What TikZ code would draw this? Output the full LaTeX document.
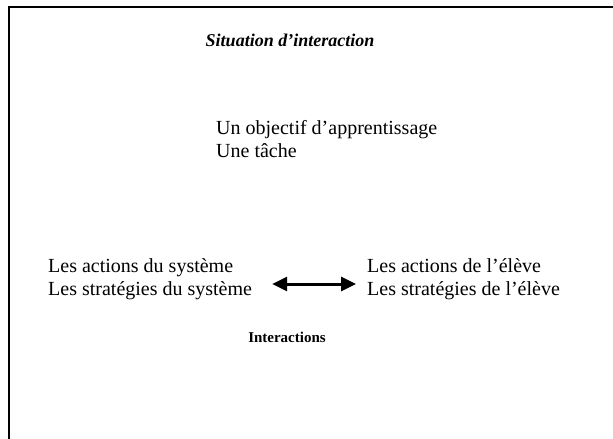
\documentclass[tikz,border=0pt]{standalone}
\usepackage{fontspec}
\setmainfont{Liberation Serif}
\usetikzlibrary{arrows.meta}

\begin{document}
\begin{tikzpicture}[x=1pt, y=-1pt,
    every node/.style={inner sep=0pt, font=\fontsize{20}{23}\selectfont},
    bloc/.style={align=left, anchor=west},
    fleche/.style={line width=3pt, {Triangle[width=14pt,length=15pt]}-{Triangle[width=14pt,length=15pt]}}]
    \useasboundingbox (0,0) rectangle (613,439);
    % cadre
    \draw[line width=1.5pt] (9,439) -- (9,7) -- (613,7);

    \node [font=\fontsize{18}{23}\selectfont] (Titre) at (290,40) {\bfseries\itshape Situation d'interaction};
    \node [bloc] (Objectif) at (216,139) {Un objectif d'apprentissage\\Une tâche};
    \node [bloc] (Systeme) at (48,279) {Les actions du système\\Les stratégies du système};
    \node [bloc] (Eleve) at (367,279) {Les actions de l'élève\\Les stratégies de l'élève};
    \node [font=\fontsize{15}{17}\bfseries] (Interactions) at (287,337) {Interactions};

    \draw [fleche] ([xshift=20pt,yshift=-5pt]Systeme.east) -- ([xshift=-11pt,yshift=-5pt]Eleve.west);
\end{tikzpicture}
\end{document}
